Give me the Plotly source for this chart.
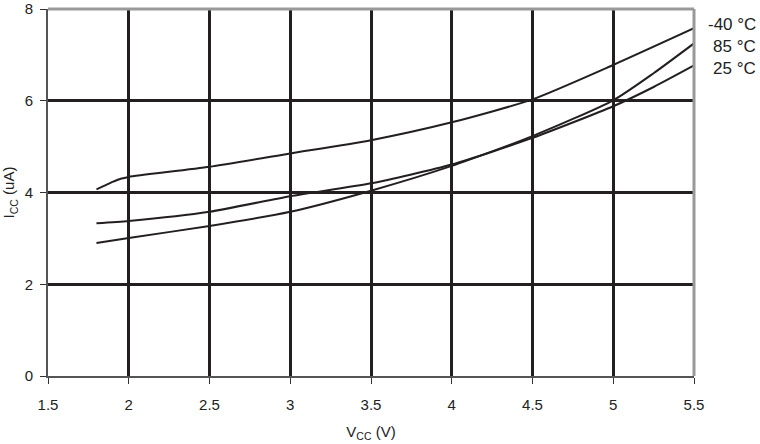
import plotly.graph_objects as go

vcc_m40 = [1.8, 1.85, 1.9, 1.95, 2.0, 2.5, 3.0, 3.5, 4.0, 4.5, 5.0, 5.5]
icc_m40 = [4.07, 4.15, 4.23, 4.30, 4.34, 4.56, 4.85, 5.14, 5.53, 6.03, 6.78, 7.58]

vcc_25 = [1.8, 2.0, 2.5, 3.0, 3.5, 4.0, 4.5, 5.0, 5.25, 5.5]
icc_25 = [3.33, 3.38, 3.58, 3.92, 4.20, 4.61, 5.19, 5.88, 6.30, 6.77]

vcc_85 = [1.8, 2.0, 2.5, 3.0, 3.5, 4.0, 4.5, 5.0, 5.25, 5.5]
icc_85 = [2.90, 3.01, 3.27, 3.58, 4.04, 4.58, 5.23, 6.01, 6.60, 7.25]

labels = ["-40 °C", "85 °C", "25 °C"]
label_y = [24, 46, 68]

ink = "#231f20"
fig = go.Figure()
for xs, ys in [(vcc_m40, icc_m40), (vcc_25, icc_25), (vcc_85, icc_85)]:
    fig.add_trace(go.Scatter(x=xs, y=ys, mode="lines", line=dict(color=ink, width=2, shape="spline", smoothing=0.6),
                             showlegend=False, hoverinfo="skip"))

font = dict(family="Liberation Sans, Arial, sans-serif", size=15, color="#222")
fig.update_layout(
    width=760, height=444,
    margin=dict(l=48, r=66, t=9, b=68),
    paper_bgcolor="white", plot_bgcolor="white",
    font=font,
    xaxis=dict(range=[1.5, 5.5], tickvals=[1.5, 2, 2.5, 3, 3.5, 4, 4.5, 5, 5.5],
               ticktext=["1.5", "2", "2.5", "3", "3.5", "4", "4.5", "5", "5.5"],
               showgrid=True, gridcolor=ink, gridwidth=3, zeroline=False,
               showline=True, linecolor="#555", linewidth=2,
               ticks="outside", ticklen=6, tickcolor="#333", tickwidth=1,
               ticklabelstandoff=8,
               title=dict(text="V<sub>CC</sub> (V)", standoff=14, font=dict(size=15)),
               automargin=False, fixedrange=True),
    yaxis=dict(range=[0, 8], tickvals=[0, 2, 4, 6, 8],
               showgrid=True, gridcolor=ink, gridwidth=3, zeroline=False,
               showline=True, linecolor="#555", linewidth=2,
               ticks="outside", ticklen=6, tickcolor="#333", tickwidth=1,
               ticklabelstandoff=4,
               title=dict(text="I<sub>CC</sub> (uA)", standoff=6, font=dict(size=15)),
               automargin=False, fixedrange=True),
)
fig.add_shape(type="line", xref="paper", yref="paper", x0=0, x1=1, y0=1, y1=1,
              line=dict(color="#999", width=3))
fig.add_shape(type="line", xref="paper", yref="paper", x0=1, x1=1, y0=0, y1=1,
              line=dict(color="#999", width=3))
for t, yp in zip(labels, label_y):
    fig.add_annotation(text=t, xref="paper", yref="paper",
                       x=(758 - 48) / (760 - 48 - 66), xanchor="right",
                       y=1 - (yp - 9) / (444 - 9 - 68), yanchor="middle",
                       showarrow=False, font=dict(size=17, color="#222"))
fig.write_html("out.html", config={"displayModeBar": False},
               post_script="document.body.style.margin='0';document.body.style.overflow='hidden';")
